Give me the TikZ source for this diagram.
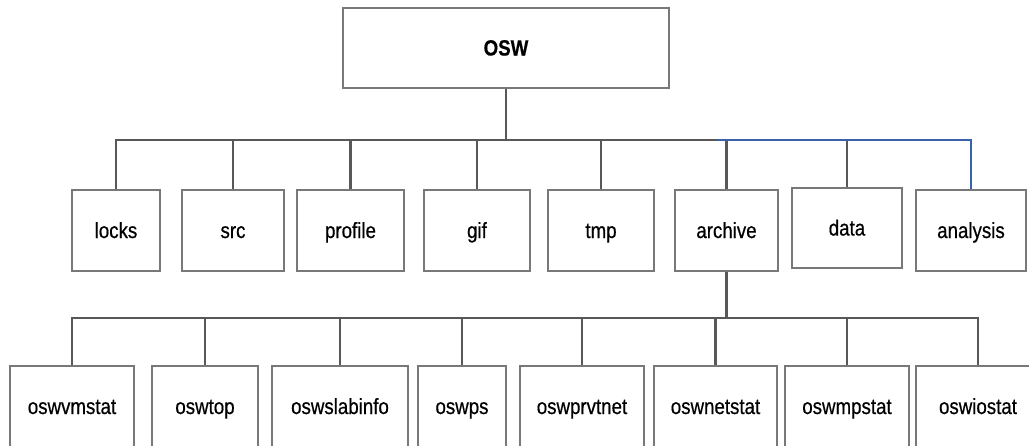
\documentclass[tikz,border=0pt]{standalone}
\usepackage{fontspec}
\setmainfont{Liberation Sans}[FakeStretch=0.85, FakeBold=0.5]
\usetikzlibrary{positioning}
\definecolor{boxgray}{RGB}{120,120,120}
\definecolor{linegray}{RGB}{88,88,88}
\definecolor{linkblue}{RGB}{58,98,170}

\begin{document}
\begin{tikzpicture}[x=1pt, y=-1pt, font=\fontsize{22}{26}\selectfont,
        d/.style={rectangle, draw=boxgray, line width=1.5pt, fill=white, inner sep=0pt,
                  minimum height=81pt, text height=20pt, text depth=5pt, align=center},
        link/.style={draw=linegray, line width=2.3pt},
        trunk/.style={draw=linegray, line width=2.8pt},
        bluelink/.style={draw=linkblue, line width=2.1pt}]
    \useasboundingbox (0,0) rectangle (1029,445);
    % top
    \node[d, minimum width=326pt, minimum height=80pt] (osw) at (506,48) {\textbf{OSW}};
    % first row
    \node[d, minimum width=88pt] (locks) at (116,230.5) {locks};
    \node[d, minimum width=102pt] (src) at (233,230.5) {src};
    \node[d, minimum width=107pt] (profile) at (350.5,230.5) {profile};
    \node[d, minimum width=106pt] (gif) at (477,230.5) {gif};
    \node[d, minimum width=106pt] (tmp) at (601,230.5) {tmp};
    \node[d, minimum width=103pt] (archive) at (726.5,230.5) {archive};
    \node[d, minimum width=110pt, minimum height=80pt] (data) at (847,228) {data};
    \node[d, minimum width=110pt] (analysis) at (971,230.5) {analysis};
    % archive row
    \node[d, minimum width=124pt] (vmstat) at (72,406.5) {oswvmstat};
    \node[d, minimum width=106pt] (top) at (205,406.5) {oswtop};
    \node[d, minimum width=136pt] (slabinfo) at (340,406.5) {oswslabinfo};
    \node[d, minimum width=88pt] (ps) at (462,406.5) {oswps};
    \node[d, minimum width=124pt] (prvtnet) at (582,406.5) {oswprvtnet};
    \node[d, minimum width=123pt] (netstat) at (715.5,406.5) {oswnetstat};
    \node[d, minimum width=124pt] (mpstat) at (847,406.5) {oswmpstat};
    \node[d, minimum width=124pt] (iostat) at (978,406.5) {oswiostat};
    % buses
    \coordinate (busA) at (506,140);
    \coordinate (blueA) at (717,140);
    \coordinate (busB) at (726.5,318);
    \draw[trunk] (osw.south) -- (busA);
    \draw[link] (busA) -| (locks.north);
    \draw[link] (busA) -| (src.north);
    \draw[link] (busA) -| (profile.north);
    \draw[link] (busA) -| (gif.north);
    \draw[link] (busA) -| (tmp.north);
    \draw[link] (busA) -| (archive.north);
    \draw[link] (busA) -| (data.north);
    \draw[bluelink] (blueA) -| (analysis.north);
    \draw[trunk] (archive.south) -- (busB);
    \draw[link] (busB) -| (vmstat.north);
    \draw[link] (busB) -| (top.north);
    \draw[link] (busB) -| (slabinfo.north);
    \draw[link] (busB) -| (ps.north);
    \draw[link] (busB) -| (prvtnet.north);
    \draw[link] (busB) -| (netstat.north);
    \draw[link] (busB) -| (mpstat.north);
    \draw[link] (busB) -| (iostat.north);
\end{tikzpicture}
\end{document}
